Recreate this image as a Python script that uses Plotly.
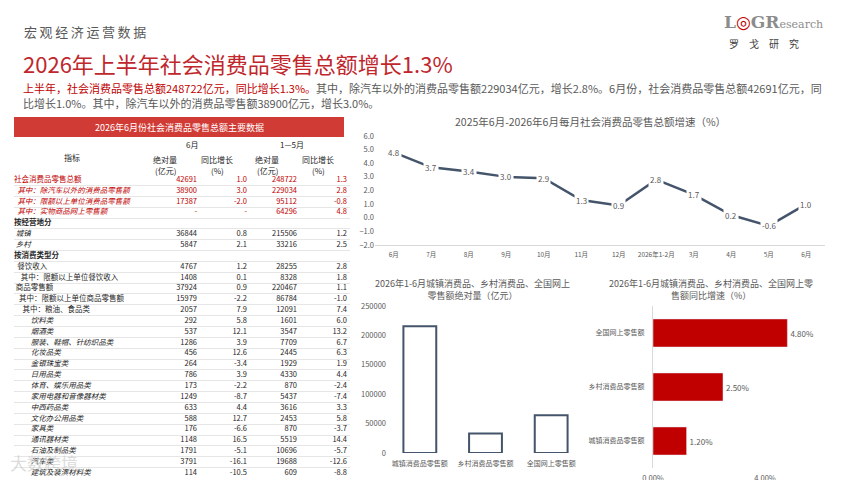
import plotly.graph_objects as go

W, H = 860, 480
FONT = "Noto Sans CJK SC"
GRAY = "#595959"
DARK = "#262626"
RED = "#c00000"
SLATE = "#44546a"

# ---- table data ----
indicators = [
    "社会消费品零售总额", "其中：除汽车以外的消费品零售额", "其中：限额以上单位消费品零售额",
    "其中：实物商品网上零售额", "按经营地分", "城镇", "乡村", "按消费类型分", "餐饮收入",
    "其中：限额以上单位餐饮收入", "商品零售额", "其中：限额以上单位商品零售额", "其中：粮油、食品类",
    "饮料类", "烟酒类", "服装、鞋帽、针纺织品类", "化妆品类", "金银珠宝类", "日用品类",
    "体育、娱乐用品类", "家用电器和音像器材类", "中西药品类", "文化办公用品类", "家具类",
    "通讯器材类", "石油及制品类", "汽车类", "建筑及装潢材料类",
]
june_value = ["42691", "38900", "17387", "-", "", "36844", "5847", "", "4767", "1408", "37924",
              "15979", "2057", "292", "537", "1286", "456", "264", "786", "173", "1249", "633",
              "588", "176", "1148", "1791", "3791", "114"]
june_yoy = ["1.0", "3.0", "-2.0", "-", "", "0.8", "2.1", "", "1.2", "0.1", "0.9", "-2.2", "7.9",
            "5.8", "12.1", "3.9", "12.6", "-3.4", "3.9", "-2.2", "-8.7", "4.4", "12.7", "-6.6",
            "16.5", "-5.1", "-16.1", "-10.5"]
ytd_value = ["248722", "229034", "95112", "64296", "", "215506", "33216", "", "28255", "8328",
             "220467", "86784", "12091", "1601", "3547", "7709", "2445", "1929", "4330", "870",
             "5437", "3616", "2453", "870", "5519", "10696", "19688", "609"]
ytd_yoy = ["1.3", "2.8", "-0.8", "4.8", "", "1.2", "2.5", "", "2.8", "1.8", "1.1", "-1.0", "7.4",
           "6.0", "13.2", "6.7", "6.3", "1.9", "4.4", "-2.4", "-7.4", "3.3", "5.8", "-3.7", "14.4",
           "-5.7", "-12.6", "-8.8"]

# ---- line chart data ----
months = ["6月", "7月", "8月", "9月", "10月", "11月", "12月", "2026年1-2月", "3月", "4月", "5月", "6月"]
growth = [4.8, 3.7, 3.4, 3.0, 2.9, 1.3, 0.9, 2.8, 1.7, 0.2, -0.6, 1.0]

# ---- bar chart data ----
channels = ["城镇消费品零售额", "乡村消费品零售额", "全国网上零售额"]
channel_value = [215506, 33216, 64296]
channel_yoy = [0.012, 0.025, 0.048]

# row styling for the table
red_rows = {0, 1, 2, 3}
bold_rows = {4, 7}
italic_rows = {1, 2, 3, 5, 6} | set(range(13, 28))
indent = [0, 2, 2, 2, 0, 1, 1, 0, 2, 4, 1, 3, 5] + [10] * 15


def px(x):
    return x / W


def py(y):
    return 1 - y / H


def note(x, y, text, size, color=GRAY, xanchor="center", family=FONT, **kw):
    fig.add_annotation(x=px(x), y=py(y), xref="paper", yref="paper", xanchor=xanchor,
                       yanchor="middle", showarrow=False, text=text,
                       font=dict(family=family, size=size, color=color), **kw)


def fmt(i, s):
    if i in bold_rows:
        s = "<b>" + s + "</b>"
    if i in italic_rows:
        s = "<i>" + s + "</i>"
    return s


rows = list(range(len(indicators)))
names = ["\u00a0" * indent[i] + fmt(i, n) for i, n in enumerate(indicators)]
row_colors = [RED if i in red_rows else DARK for i in rows]

fig = go.Figure()

# table drawn as text columns on a hidden axis pair (x4/y4), row gridlines as separators
table_cols = [(names, 14, "middle right"), (june_value, 197, "middle left"),
              (june_yoy, 247, "middle left"), (ytd_value, 297, "middle left"),
              (ytd_yoy, 347, "middle left")]
for col, xpos, pos in table_cols:
    fig.add_trace(go.Scatter(
        x=[xpos] * len(rows), y=rows, text=col, mode="text", textposition=pos,
        textfont=dict(family=FONT, size=7.5, color=row_colors), cliponaxis=False,
        xaxis="x4", yaxis="y4", showlegend=False, hoverinfo="skip",
    ))

# line chart
fig.add_trace(go.Scatter(
    x=list(range(len(months))), y=growth, mode="lines",
    line=dict(color=SLATE, width=2.5), xaxis="x", yaxis="y", showlegend=False,
))
for i, v in enumerate(growth):
    fig.add_annotation(x=i, y=v, xref="x", yref="y", text=f"{v:.1f}", showarrow=False,
                       bgcolor="white", borderpad=1, font=dict(family=FONT, size=8, color=GRAY))

# vertical bar chart
fig.add_trace(go.Bar(
    x=channels, y=channel_value, xaxis="x2", yaxis="y2", width=0.5,
    marker=dict(color="white", line=dict(color=SLATE, width=2)), showlegend=False,
))

# horizontal bar chart
fig.add_trace(go.Bar(
    x=channel_yoy, y=channels, orientation="h", xaxis="x3", yaxis="y3", width=0.52,
    marker=dict(color=RED), text=[f"{v:.2%}" for v in channel_yoy], textposition="outside",
    textfont=dict(family=FONT, size=8, color=GRAY), cliponaxis=False, showlegend=False,
))

tickfont = dict(family=FONT, size=7.5, color=GRAY)
fig.update_layout(
    width=W, height=H, margin=dict(l=0, r=0, t=0, b=0, autoexpand=False),
    paper_bgcolor="white", plot_bgcolor="white",
    font=dict(family=FONT),
    xaxis=dict(domain=[px(375), px(825)], range=[-0.5, 11.5], tickvals=list(range(len(months))),
               ticktext=months, tickfont=dict(family=FONT, size=6.5, color=GRAY),
               showgrid=False, zeroline=False, showline=True, linecolor="#d9d9d9", ticks="",
               ticklabelstandoff=3, automargin=False),
    yaxis=dict(domain=[py(245), py(136)], range=[-2, 6], dtick=1, tickformat=".1f",
               tickfont=tickfont, showgrid=False, zeroline=False, anchor="x", automargin=False),
    xaxis2=dict(domain=[px(387), px(584)], anchor="y2", tickfont=dict(family=FONT, size=7, color=GRAY),
                showgrid=False, showline=False, ticks="", ticklabelstandoff=5, automargin=False),
    yaxis2=dict(domain=[py(453), py(306)], anchor="x2", range=[0, 250000], dtick=50000,
                tickformat="d", tickfont=tickfont, showgrid=False, zeroline=False, automargin=False),
    xaxis3=dict(domain=[px(653), px(821)], anchor="y3", range=[0, 0.06], dtick=0.04,
                tickformat=".2%", tickfont=tickfont, showgrid=False, zeroline=False,
                ticklabelstandoff=4, automargin=False),
    yaxis3=dict(domain=[py(468), py(306)], anchor="x3", tickfont=dict(family=FONT, size=7, color=GRAY),
                showgrid=False, showline=True, linecolor="#d9d9d9", ticks="", ticklabelstandoff=6,
                automargin=False),
    xaxis4=dict(domain=[px(14), px(350)], anchor="y4", range=[14, 350], visible=False),
    yaxis4=dict(domain=[py(478.4), py(174.6)], anchor="x4", range=[len(rows) - 0.5, -0.5],
                tickvals=[i - 0.5 for i in range(len(rows) + 1)], showticklabels=False,
                showgrid=True, gridcolor="#e6e6e6", gridwidth=0.7, zeroline=False, ticks="",
                automargin=False),
)

# slide header
note(22, 32, "\u2009".join("宏观经济运营数据"), 13, xanchor="left")
note(21, 63, "2026年上半年社会消费品零售总额增长1.3%", 22, "#c0272d", xanchor="left")
note(21, 88, f"<span style='color:{RED}'>上半年，社会消费品零售总额248722亿元，同比增长1.3%。</span>"
             "其中，除汽车以外的消费品零售额229034亿元，增长2.8%。6月份，社会消费品零售总额42691亿元，同",
     11, xanchor="left")
note(21, 103, "比增长1.0%。其中，除汽车以外的消费品零售额38900亿元，增长3.0%。", 11, xanchor="left")

# logo
note(722, 22, f"<b>L<span style='color:{RED}'>◎</span>GR</b><span style='font-size:11px'>esearch</span>",
     17, "#8c8c8c", xanchor="left", family="DejaVu Serif")
note(764, 43, "罗\u2003戈\u2003研\u2003究", 10, "#404040")

# table title bar and header
fig.add_shape(type="rect", xref="paper", yref="paper", x0=px(14), x1=px(344), y0=py(137), y1=py(117),
              fillcolor="#d03b35", line=dict(width=0))
note(179, 127, "2026年6月份社会消费品零售总额主要数据", 9, "white")
note(192, 144, "6月", 8, DARK)
note(292, 144, "1—5月", 8, DARK)
note(72, 157, "指标", 8, DARK)
for xc, label in [(165, "绝对量"), (217, "同比增长"), (267, "绝对量"), (318, "同比增长")]:
    note(xc, 159, label, 8, DARK)
for xc, label in [(165, "(亿元)"), (217, "(%)"), (267, "(亿元)"), (318, "(%)")]:
    note(xc, 170, label, 8, DARK)

# chart titles
note(590, 121, "2025年6月-2026年6月每月社会消费品零售总额增速（%）", 10.5)
note(472, 289, "2026年1-6月城镇消费品、乡村消费品、全国网上<br>零售额绝对量（亿元）", 9)
note(711, 289, "2026年1-6月城镇消费品、乡村消费品、全国网上零<br>售额同比增速（%）", 9)

# watermark
note(8, 462, "大数跨境", 17, "rgba(190,190,190,0.55)", xanchor="left")

fig.write_html("out.html", config={"displayModeBar": False},
               post_script="document.body.style.margin='0';")
